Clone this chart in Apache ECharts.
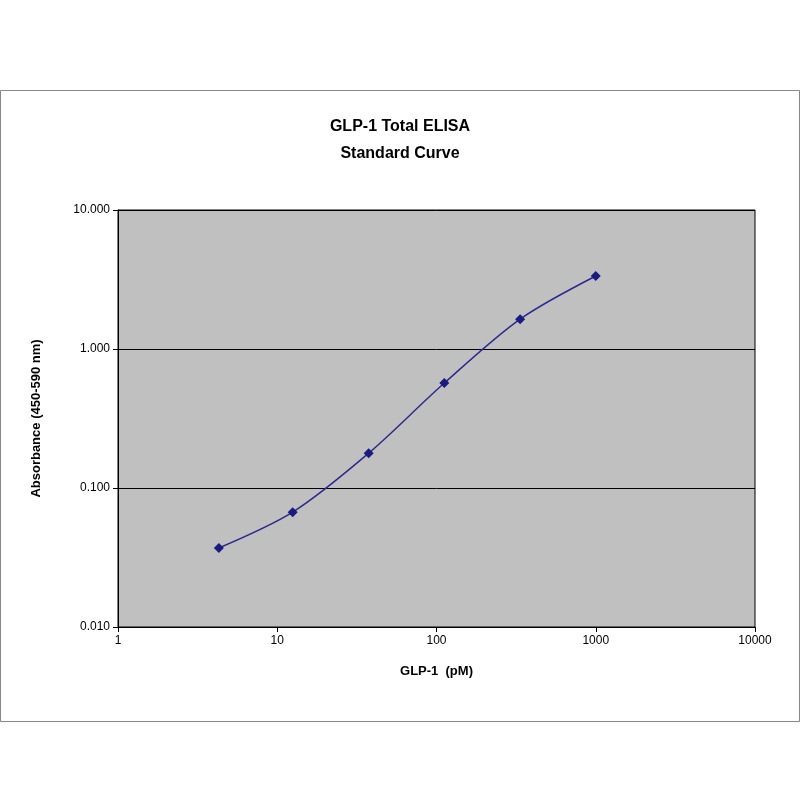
<!DOCTYPE html>
<html><head><meta charset="utf-8">
<script src="https://cdn.jsdelivr.net/npm/echarts@6/dist/echarts.min.js"></script>
<style>html,body{margin:0;padding:0;background:#fff}#c{width:800px;height:800px}</style>
</head><body><div id="c"></div>
<script>
const concentrations = [4.3, 12.5, 37.5, 112, 335, 1000];
const absorbance = [0.037, 0.067, 0.178, 0.569, 1.64, 3.35];
const yTicks = ['0.010', '0.100', '1.000', '10.000'];
const xTicks = ['1', '10', '100', '1000', '10000'];
const chart = echarts.init(document.getElementById('c'));
chart.setOption({
  animation: false,
  graphic: [{type:'rect', shape:{x:0.5,y:90.5,width:799,height:631}, style:{fill:'none', stroke:'#888', lineWidth:1}}],
  title: {text: 'GLP-1 Total ELISA\nStandard Curve', left: 'center', top: 108,
    textStyle: {fontFamily: 'Liberation Sans', fontSize: 16, fontWeight: 'bold', color: '#000', lineHeight: 27}},
  grid: {left: 118, right: 45, top: 210, bottom: 173, show: true, backgroundColor: '#c0c0c0', borderColor: '#000', borderWidth: 1},
  xAxis: {type: 'log', logBase: 10, min: 1, max: 10000, name: 'GLP-1  (pM)', nameLocation: 'middle', nameGap: 38,
    nameTextStyle: {fontFamily: 'Liberation Sans', fontSize: 13, fontWeight: 'bold', color: '#000'},
    axisLine: {lineStyle: {color: '#000'}}, axisTick: {show: true, lineStyle: {color: '#000'}},
    axisLabel: {fontFamily: 'Liberation Sans', fontSize: 12, color: '#000',
      formatter: v => xTicks[Math.round(Math.log10(v))]}, splitLine: {show: false}},
  yAxis: {type: 'log', logBase: 10, min: 0.01, max: 10, name: 'Absorbance (450-590 nm)', nameLocation: 'middle', nameGap: 75,
    nameTextStyle: {fontFamily: 'Liberation Sans', fontSize: 13, fontWeight: 'bold', color: '#000'},
    axisLine: {show: true, lineStyle: {color: '#000'}}, axisTick: {show: true, lineStyle: {color: '#000'}},
    axisLabel: {fontFamily: 'Liberation Sans', fontSize: 12, color: '#000',
      formatter: v => yTicks[Math.round(Math.log10(v)) + 2]},
    splitLine: {show: true, lineStyle: {color: '#000', width: 1}}},
  series: [{type: 'line', smooth: 0.3, data: concentrations.map((c, i) => [c, absorbance[i]]),
    symbol: 'diamond', symbolSize: 10, itemStyle: {color: '#1a1a80'}, lineStyle: {color: '#2a2a90', width: 1.5}}]
});
</script></body></html>
